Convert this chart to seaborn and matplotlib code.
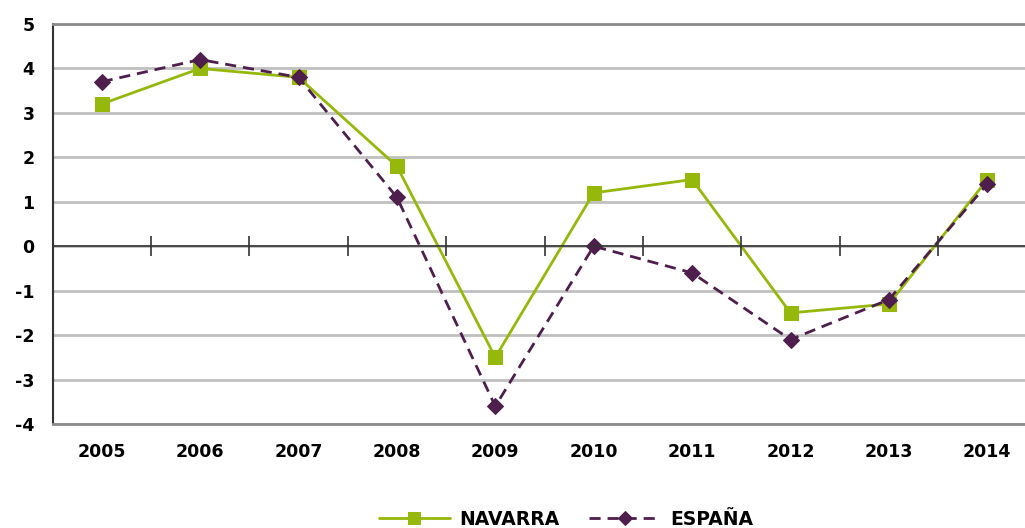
import pandas as pd
import matplotlib
matplotlib.use('Agg')
import matplotlib.pyplot as plt
import seaborn as sns

years = ['2005', '2006', '2007', '2008', '2009', '2010', '2011', '2012', '2013', '2014']
navarra = [3.2, 4.0, 3.8, 1.8, -2.5, 1.2, 1.5, -1.5, -1.3, 1.5]
espana = [3.7, 4.2, 3.8, 1.1, -3.6, 0.0, -0.6, -2.1, -1.2, 1.4]

df = pd.DataFrame({'pos': list(range(len(years))) * 2,
                   'valor': navarra + espana,
                   'serie': ['NAVARRA'] * len(years) + ['ESPAÑA'] * len(years)})

sns.set_style('white')
plt.rcParams['font.family'] = ['DejaVu Sans']
plt.rcParams['font.weight'] = 'bold'
plt.rcParams['text.color'] = 'black'
plt.rcParams['xtick.color'] = 'black'
plt.rcParams['ytick.color'] = 'black'
plt.rcParams['axes.unicode_minus'] = False

fig = plt.figure(figsize=(10.25, 5.28), dpi=100)
ax = fig.add_axes([52.5 / 1025, 1 - 424 / 528, 984 / 1025, 400 / 528])

green = '#95b80a'
purple = '#4e1f4c'

sns.lineplot(data=df[df['serie'] == 'NAVARRA'], x='pos', y='valor', ax=ax,
             color=green, lw=2, marker='s', markersize=10, markeredgecolor=green,
             label='NAVARRA', zorder=3)
sns.lineplot(data=df[df['serie'] == 'ESPAÑA'], x='pos', y='valor', ax=ax,
             color=purple, lw=2, ls=(0, (4, 2.5)), marker='D', markersize=8,
             markeredgecolor=purple, label='ESPAÑA', zorder=4)

ax.set_xlim(-0.5, 9.5)
ax.set_ylim(-4, 5)
ax.set_yticks(range(-4, 6))
ax.set_xticks(range(len(years)))
ax.set_xticklabels(years)
ax.set_xlabel('')
ax.set_ylabel('')

ax.yaxis.grid(True, color='#c0c0c0', lw=2)
ax.set_axisbelow(True)
ax.tick_params(axis='y', direction='out', length=8, width=1.2, color='#333333',
               labelcolor='black', labelsize=12.5, pad=5)
ax.tick_params(axis='x', length=0, labelcolor='black', labelsize=12.5, pad=14)
for lab in ax.get_xticklabels() + ax.get_yticklabels():
    lab.set_fontweight('bold')

for side in ['top', 'bottom']:
    ax.spines[side].set_color('#8c8c8c')
    ax.spines[side].set_linewidth(2)
ax.spines['right'].set_visible(False)
ax.spines['left'].set_color('#333333')
ax.spines['left'].set_linewidth(1.5)

# category axis crossing at zero, tick marks between categories
ax2 = ax.twiny()
ax2.set_xlim(ax.get_xlim())
ax2.spines['top'].set_visible(False)
ax2.spines['left'].set_visible(False)
ax2.spines['right'].set_visible(False)
ax2.spines['bottom'].set_position(('data', 0))
ax2.spines['bottom'].set_color('#333333')
ax2.spines['bottom'].set_linewidth(1.2)
ax2.xaxis.set_ticks_position('bottom')
ax2.set_xticks([i + 0.5 for i in range(len(years) - 1)])
ax2.tick_params(axis='x', direction='inout', length=14, width=1.2,
                color='#333333', labelbottom=False, labeltop=False)

ax.get_legend().remove()
h, l = ax.get_legend_handles_labels()
fig.legend(h, l, loc='center', bbox_to_anchor=(0.552, 0.016), ncol=2, frameon=False,
           handlelength=3.8, columnspacing=1.6, handletextpad=0.5, markerscale=0.85,
           prop={'weight': 'bold', 'size': 13.5})

fig.savefig('out.png', dpi=100)
